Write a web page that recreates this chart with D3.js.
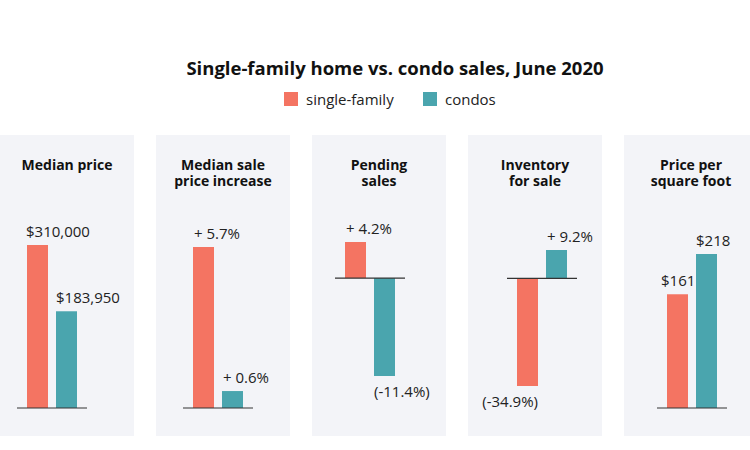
<!DOCTYPE html>
<html>
<head>
<meta charset="utf-8">
<script src="https://cdn.jsdelivr.net/npm/d3@7"></script>
<style>
  body { margin: 0; background: #fff; }
  svg { display: block; font-family: "Open Sans", sans-serif; }
</style>
</head>
<body>
<div id="chart"></div>
<script>
// data
var metrics = ["Median price", "Median sale price increase", "Pending sales", "Inventory for sale", "Price per square foot"];
var titleLines = [["Median price"], ["Median sale", "price increase"], ["Pending", "sales"], ["Inventory", "for sale"], ["Price per", "square foot"]];
var seriesNames = ["single-family", "condos"];
var singleFamily = [310000, 5.7, 4.2, -34.9, 161];
var condos = [183950, 0.6, -11.4, 9.2, 218];
var singleLabels = ["$310,000", "+ 5.7%", "+ 4.2%", "(-34.9%)", "$161"];
var condoLabels = ["$183,950", "+ 0.6%", "(-11.4%)", "+ 9.2%", "$218"];

// layout per panel
var barOffset = [27, 37, 33, 49, 43];
var plotRange = [[408, 245], [408, 247], [376, 242], [386, 250], [408, 254]];
var labelAnchor = [["start", "start"], ["start", "start"], ["start", "start"], ["end", "start"], ["start", "start"]];
var labelDx = [[-1, 0], [1, 1], [1, 0], [0, 1], [-6, 0]];

var width = 750, height = 450;
var color = d3.scaleOrdinal().domain(seriesNames).range(["#f47462", "#4aa5ae"]);

var svg = d3.select("#chart").append("svg")
    .attr("width", width)
    .attr("height", height);

svg.append("text")
    .attr("x", 395)
    .attr("y", 75)
    .attr("text-anchor", "middle")
    .style("font-size", "18.5px")
    .style("font-weight", "bold")
    .style("fill", "#111")
    .text("Single-family home vs. condo sales, June 2020");

var legendX = [284, 423];
var legend = svg.selectAll(".legend")
    .data(seriesNames)
  .enter().append("g")
    .attr("class", "legend")
    .attr("transform", function(d, i) { return "translate(" + legendX[i] + ",92)"; });

legend.append("rect")
    .attr("width", 14)
    .attr("height", 14)
    .style("fill", color);

legend.append("text")
    .attr("x", 22)
    .attr("y", 13)
    .style("font-size", "15px")
    .style("fill", "#222")
    .text(function(d) { return d; });

var xPanel = d3.scaleBand()
    .domain(metrics)
    .range([0, 758])
    .paddingInner(22 / 156);

var panels = svg.selectAll(".panel")
    .data(metrics)
  .enter().append("g")
    .attr("class", "panel")
    .attr("transform", function(d) { return "translate(" + xPanel(d) + ",0)"; });

panels.append("rect")
    .attr("y", 135)
    .attr("width", xPanel.bandwidth())
    .attr("height", 301)
    .style("fill", "#f3f4f8");

panels.each(function(m, i) {
    var g = d3.select(this);
    var vals = [singleFamily[i], condos[i]];
    var labels = [singleLabels[i], condoLabels[i]];

    // one text per title line
    g.selectAll(".title")
        .data(titleLines[i])
      .enter().append("text")
        .attr("class", "title")
        .attr("x", xPanel.bandwidth() / 2)
        .attr("y", function(d, j) { return 170 + j * 16; })
        .attr("text-anchor", "middle")
        .style("font-size", "14px")
        .style("font-weight", "bold")
        .style("fill", "#111")
        .text(function(d) { return d; });

    var y = d3.scaleLinear()
        .domain([Math.min(0, d3.min(vals)), Math.max(0, d3.max(vals))])
        .range(plotRange[i]);

    var x = d3.scaleBand()
        .domain(seriesNames)
        .range([barOffset[i], barOffset[i] + 50])
        .paddingInner(8 / 29);

    g.selectAll(".bar")
        .data(vals)
      .enter().append("rect")
        .attr("class", "bar")
        .attr("x", function(d, j) { return x(seriesNames[j]); })
        .attr("width", x.bandwidth())
        .attr("y", function(d) { return y(Math.max(0, d)); })
        .attr("height", function(d) { return Math.abs(y(d) - y(0)); })
        .style("fill", function(d, j) { return color(seriesNames[j]); });

    g.append("line")
        .attr("x1", barOffset[i] - 10)
        .attr("x2", barOffset[i] + 60)
        .attr("y1", y(0))
        .attr("y2", y(0))
        .style("stroke", "#333")
        .style("stroke-width", 1.2);

    g.selectAll(".val")
        .data(vals)
      .enter().append("text")
        .attr("class", "val")
        .attr("x", function(d, j) {
            return labelAnchor[i][j] === "end" ? x(seriesNames[j]) + x.bandwidth() : x(seriesNames[j]);
        })
        .attr("dx", function(d, j) { return labelDx[i][j]; })
        .attr("y", function(d) { return d >= 0 ? y(d) - 8 : y(d) + 21; })
        .attr("text-anchor", function(d, j) { return labelAnchor[i][j]; })
        .style("font-size", "15px")
        .style("fill", "#222")
        .text(function(d, j) { return labels[j]; });
});
</script>
</body>
</html>
